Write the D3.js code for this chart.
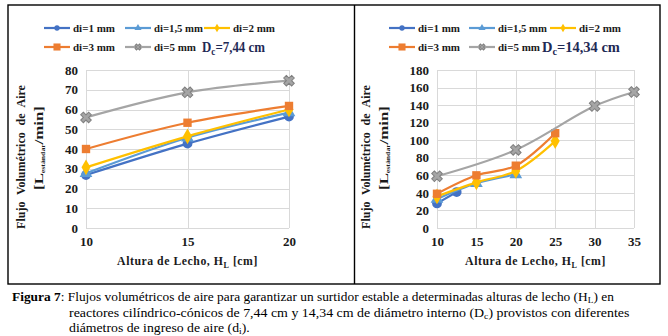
<!DOCTYPE html>
<html>
<head>
<meta charset="utf-8">
<script src="https://cdn.jsdelivr.net/npm/d3@7"></script>
</head>
<body style="margin:0; background:#fff">
<script>
const W = 668, H = 336;
const FONT = "'Liberation Serif'";

// series names / legend
const seriesNames = ["di=1 mm", "di=1,5 mm", "di=2 mm", "di=3 mm", "di=5 mm"];
const seriesColors = ["#4472c4", "#5b9bd5", "#ffc000", "#ed7d31", "#a5a5a5"];

// left panel, Dc = 7,44 cm
const leftX = [10, 15, 20];
const leftD1 = [26.8, 42.7, 56.4];
const leftD15 = [27.7, 45.7, 58.4];
const leftD2 = [30.7, 46.4, 60];
const leftD3 = [40, 53.3, 61.8];
const leftD5 = [56, 68.7, 74.6];
const leftXTicks = [10, 15, 20];
const leftYTicks = [0, 10, 20, 30, 40, 50, 60, 70, 80];

// right panel, Dc = 14,34 cm
const rightD1X = [10, 12.5], rightD1 = [28, 41];
const rightD15X = [10, 15, 20], rightD15 = [33, 51, 61];
const rightD2X = [10, 15, 20, 25], rightD2 = [36, 52, 65, 99];
const rightD3X = [10, 15, 20, 25], rightD3 = [39, 60, 71, 108];
const rightD5X = [10, 20, 30, 35], rightD5 = [59, 89, 139, 155];
const rightXTicks = [10, 15, 20, 25, 30, 35];
const rightYTicks = [0, 20, 40, 60, 80, 100, 120, 140, 160, 180];

const svg = d3.select("body").append("svg")
  .attr("width", W)
  .attr("height", H)
  .style("display", "block")
  .style("font-family", FONT);

// table frame
const frame = svg.append("g")
  .attr("fill", "none")
  .attr("stroke", "#000")
  .attr("stroke-width", 1.4);
frame.append("rect").attr("x", 8).attr("y", 5).attr("width", 652).attr("height", 279);
frame.append("line").attr("x1", 354.5).attr("x2", 354.5).attr("y1", 5).attr("y2", 284);

// text helper: always set the font on the element itself
function txt(g, size, bold) {
  return g.append("text")
    .style("font-family", FONT)
    .style("font-size", size + "px")
    .style("font-weight", bold ? "bold" : "normal");
}

// put a text at (tx,ty), optionally rotated, squeezed to a given width
function place(t, tx, ty, rot, targetW) {
  let tr = "translate(" + tx + "," + ty + ")";
  if (rot) tr += " rotate(" + rot + ")";
  if (targetW) {
    const w = t.node().getComputedTextLength();
    tr += " scale(" + (targetW / w) + ",1)";
  }
  t.attr("transform", tr);
}

function markerPath(i, size) {
  if (i == 0) return d3.symbol(d3.symbolCircle, size)();
  if (i == 1) return d3.symbol(d3.symbolTriangle, size)();
  if (i == 2) return d3.symbol(d3.symbolDiamond, size)();
  if (i == 3) return d3.symbol(d3.symbolSquare, size)();
  return d3.symbol(d3.symbolCross, size)();
}

function drawMarker(g, i, x, y, size) {
  const m = g.append("path")
    .attr("d", markerPath(i, size))
    .attr("fill", seriesColors[i]);
  if (i == 4) {
    m.attr("transform", "translate(" + x + "," + y + ") rotate(45)")
      .attr("stroke", "#7f7f7f").attr("stroke-width", 1);
  } else {
    m.attr("transform", "translate(" + x + "," + y + ")");
  }
}

function drawPanel(cfg) {
  const g = svg.append("g");
  const x = d3.scaleLinear().domain(cfg.xDomain).range([cfg.left, cfg.right]);
  const y = d3.scaleLinear().domain(cfg.yDomain).range([cfg.bottom, cfg.top]);

  // grid
  g.append("g").selectAll("line").data(cfg.yTicks).enter().append("line")
    .attr("x1", cfg.left).attr("x2", cfg.right)
    .attr("y1", d => Math.round(y(d)) + 0.5).attr("y2", d => Math.round(y(d)) + 0.5)
    .attr("stroke", "#d9d9d9");
  g.append("g").selectAll("line").data(cfg.xTicks).enter().append("line")
    .attr("y1", cfg.top).attr("y2", cfg.bottom)
    .attr("x1", d => Math.round(x(d)) + 0.5).attr("x2", d => Math.round(x(d)) + 0.5)
    .attr("stroke", "#d9d9d9");

  // axes (labels only, Excel style)
  const ya = g.append("g")
    .attr("transform", "translate(" + cfg.left + ",0)")
    .call(d3.axisLeft(y).tickValues(cfg.yTicks).tickSize(0).tickPadding(8));
  const xa = g.append("g")
    .attr("transform", "translate(0," + cfg.bottom + ")")
    .call(d3.axisBottom(x).tickValues(cfg.xTicks).tickSize(0).tickPadding(9));
  [ya, xa].forEach(a => {
    a.attr("font-family", FONT).attr("font-size", 13);
    a.select(".domain").remove();
    a.selectAll("text")
      .attr("fill", "#1a1a1a")
      .style("font-family", FONT)
      .style("font-weight", "bold")
      .style("font-size", "13px");
  });

  // lines
  const line = d3.line()
    .x(d => x(d[0])).y(d => y(d[1]))
    .curve(d3.curveCatmullRom.alpha(0.5));
  cfg.series.forEach((s, i) => {
    const pts = s.xs.map((v, k) => [v, s.ys[k]]);
    g.append("path")
      .datum(pts)
      .attr("fill", "none")
      .attr("stroke", seriesColors[i])
      .attr("stroke-width", 2.2)
      .attr("d", line);
    pts.forEach(p => drawMarker(g, i, x(p[0]), y(p[1]), i == 0 ? 75 : 70));
  });

  // legend
  cfg.legendPos.forEach((p, i) => {
    g.append("line")
      .attr("x1", p[0]).attr("x2", p[0] + 26)
      .attr("y1", p[1]).attr("y2", p[1])
      .attr("stroke", seriesColors[i]).attr("stroke-width", 2.2);
    drawMarker(g, i, p[0] + 13, p[1], i == 3 ? 50 : 22);
    const t = txt(g, 11, true)
      .attr("fill", "#1a1a1a")
      .text(seriesNames[i]);
    place(t, p[0] + 29, p[1] + 4, 0, i == 1 ? 49 : 42);
  });

  // Dc label
  const dc = txt(g, 14, true).attr("fill", "#1f2a55");
  dc.append("tspan").text("D");
  dc.append("tspan").attr("dy", 3).style("font-size", "10px").text("c");
  dc.append("tspan").attr("dy", -3).text(cfg.dcText);
  place(dc, cfg.dcPos[0], cfg.dcPos[1], 0, cfg.dcW);

  // x title
  const xt = txt(g, 13, true)
    .attr("text-anchor", "middle")
    .style("letter-spacing", "0.6px")
    .attr("fill", "#1a1a1a");
  xt.append("tspan").text("Altura de Lecho, H");
  xt.append("tspan").attr("dy", 3).style("font-size", "9px").text("L");
  xt.append("tspan").attr("dy", -3).text(" [cm]");
  place(xt, (cfg.left + cfg.right) / 2, cfg.bottom + 37, 0, 141);

  // y title (two lines)
  const t1 = txt(g, 13, true)
    .attr("text-anchor", "middle")
    .style("word-spacing", "4px")
    .attr("fill", "#1a1a1a")
    .text("Flujo Volumétrico de Aire");
  place(t1, cfg.yTitleX + 4, 157, -90, 144);
  const t2 = txt(g, 13, true)
    .attr("text-anchor", "middle")
    .attr("fill", "#1a1a1a");
  t2.append("tspan").text("[L");
  t2.append("tspan").attr("dy", 2).style("font-size", "6px").text("estándar");
  t2.append("tspan").attr("dy", -2).text("/min]");
  place(t2, cfg.yTitleX + 22, 148, -90, 84);
}

drawPanel({
  left: 86, right: 289, top: 70, bottom: 228,
  xDomain: [10, 20], yDomain: [0, 80],
  xTicks: leftXTicks, yTicks: leftYTicks,
  series: [
    { xs: leftX, ys: leftD1 },
    { xs: leftX, ys: leftD15 },
    { xs: leftX, ys: leftD2 },
    { xs: leftX, ys: leftD3 },
    { xs: leftX, ys: leftD5 }
  ],
  legendPos: [[44, 28], [125, 28], [204, 28], [44, 47], [125, 47]],
  dcPos: [202, 52], dcText: "=7,44  cm", dcW: 63,
  yTitleX: 21
});

drawPanel({
  left: 437, right: 634, top: 70, bottom: 228,
  xDomain: [10, 35], yDomain: [0, 180],
  xTicks: rightXTicks, yTicks: rightYTicks,
  series: [
    { xs: rightD1X, ys: rightD1 },
    { xs: rightD15X, ys: rightD15 },
    { xs: rightD2X, ys: rightD2 },
    { xs: rightD3X, ys: rightD3 },
    { xs: rightD5X, ys: rightD5 }
  ],
  legendPos: [[389, 28], [469, 28], [550, 28], [389, 47], [469, 47]],
  dcPos: [542, 52], dcText: "=14,34  cm", dcW: 78,
  yTitleX: 366
});

// caption
const cap = svg.append("g").attr("fill", "#000");

const c1 = txt(cap, 13, false);
c1.append("tspan").style("font-weight", "bold").text("Figura 7");
c1.append("tspan").text(": Flujos volumétricos de aire para garantizar un surtidor estable a determinadas alturas de lecho (H");
c1.append("tspan").attr("dy", 2).style("font-size", "9px").text("L");
c1.append("tspan").attr("dy", -2).text(") en");
place(c1, 12, 301, 0, 602);

const c2 = txt(cap, 13, false);
c2.append("tspan").text("reactores cilíndrico-cónicos de 7,44 cm y 14,34 cm de diámetro interno (D");
c2.append("tspan").attr("dy", 2).style("font-size", "9px").text("c");
c2.append("tspan").attr("dy", -2).text(") provistos con diferentes");
place(c2, 69, 317, 0, 561);

const c3 = txt(cap, 13, false);
c3.append("tspan").text("diámetros de ingreso de aire (d");
c3.append("tspan").attr("dy", 2).style("font-size", "9px").text("i");
c3.append("tspan").attr("dy", -2).text(").");
place(c3, 69, 332, 0, 181);
</script>
</body>
</html>
